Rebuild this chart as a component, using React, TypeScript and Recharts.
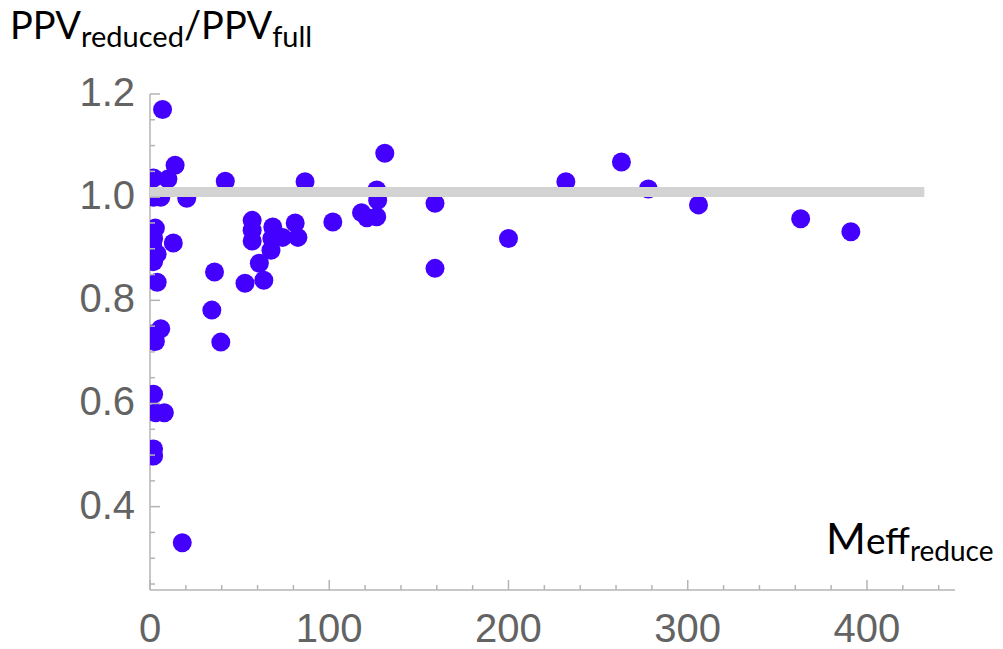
import React from 'react'
import { ScatterChart, Scatter, XAxis, YAxis } from 'recharts'

// Meff_reduce (x) and PPV_reduced / PPV_full (y)
const meffValues = [
  7, 14, 2, 10, 2, 6, 20.5, 3, 2, 1.5, 4, 2, 13, 4, 6, 2, 3, 2, 3, 8, 2, 2, 18,
  34.5, 36, 39.5, 42, 53, 57, 57, 57, 61, 63.5, 68.5, 68, 67.5, 74, 81, 82.5, 86.5,
  102, 118, 121, 126.5, 127, 126.5, 131, 159, 159, 200, 232, 263, 278, 306, 363, 391,
]
const ppvRatio = [
  1.17, 1.062, 1.037, 1.035, 1.0, 1.0, 0.998, 0.94, 0.92, 0.905, 0.89, 0.875, 0.911, 0.835,
  0.745, 0.735, 0.72, 0.618, 0.582, 0.582, 0.512, 0.498, 0.33,
  0.781, 0.855, 0.719, 1.031, 0.833, 0.955, 0.936, 0.915, 0.872, 0.839, 0.942, 0.92, 0.897,
  0.922, 0.95, 0.922, 1.03, 0.952, 0.97, 0.96, 0.962, 0.994, 1.014, 1.085, 0.988, 0.862,
  0.92, 1.03, 1.068, 1.016, 0.985, 0.958, 0.933,
]

// reference band near 1
const refLineX = [0, 432]
const refLineY = 1.01

const xTicks = [0, 20, 40, 60, 80, 100, 120, 140, 160, 180, 200, 220, 240, 260, 280, 300, 320, 340, 360, 380, 400, 420, 440]
const xLabels = [0, 100, 200, 300, 400]
const yTicks = [0.25, 0.3, 0.35, 0.4, 0.45, 0.5, 0.55, 0.6, 0.65, 0.7, 0.75, 0.8, 0.85, 0.9, 0.95, 1.0, 1.05, 1.1, 1.15, 1.2]
const yLabels = [0.4, 0.6, 0.8, 1.0, 1.2]

const points = meffValues.map((x, i) => ({ x, y: ppvRatio[i] }))
const refPoints = refLineX.map(x => ({ x, y: refLineY }))

const AXIS = '#b4b4b4'
const TICK_TEXT = '#636363'
const DOT = '#4400ff'

const XTick = (props: any) => {
  const { x, y, payload } = props
  const major = xLabels.some(v => Math.abs(v - payload.value) < 1e-6)
  return (
    <g>
      <line x1={x} y1={y} x2={x} y2={y - (major ? 10 : 5)} stroke={AXIS} strokeWidth={1.5} />
      {major && (
        <text x={x} y={y + 52} textAnchor="middle" fill={TICK_TEXT}
          style={{ fontFamily: "'Liberation Sans', Arial, sans-serif", fontSize: 40 }}>
          {payload.value}
        </text>
      )}
    </g>
  )
}

const YTick = (props: any) => {
  const { x, y, payload } = props
  const major = yLabels.some(v => Math.abs(v - payload.value) < 1e-6)
  return (
    <g>
      <line x1={x} y1={y} x2={x + (major ? 10 : 5)} y2={y} stroke={AXIS} strokeWidth={1.5} />
      {major && (
        <text x={x - 15} y={y + 12} textAnchor="end" fill={TICK_TEXT}
          style={{ fontFamily: "'Liberation Sans', Arial, sans-serif", fontSize: 40 }}>
          {payload.value.toFixed(1)}
        </text>
      )}
    </g>
  )
}

const Dot = (props: any) => <circle cx={props.cx} cy={props.cy} r={9.5} fill={DOT} />

export default function App() {
  const labelFont = "Lato, 'Open Sans', sans-serif"
  return (
    <div style={{ position: 'absolute', left: 0, top: 0, width: 1003, height: 649, background: '#fff' }}>
      <ScatterChart width={1003} height={649} margin={{ top: 94, right: 48, bottom: 29, left: 90 }}>
        <XAxis
          type="number"
          dataKey="x"
          domain={[0, 449.1]}
          ticks={xTicks}
          interval={0}
          allowDataOverflow
          height={30}
          stroke={AXIS}
          strokeWidth={1.5}
          tickLine={false}
          tickSize={0}
          tickMargin={0}
          tick={<XTick />}
        />
        <YAxis
          type="number"
          dataKey="y"
          domain={[0.2384, 1.2]}
          ticks={yTicks}
          interval={0}
          allowDataOverflow
          width={60}
          stroke={AXIS}
          strokeWidth={1.5}
          tickLine={false}
          tickSize={0}
          tickMargin={0}
          tick={<YTick />}
        />
        <Scatter data={points} shape={<Dot />} isAnimationActive={false} />
        <Scatter
          data={refPoints}
          line={{ stroke: '#d3d3d3', strokeWidth: 10 }}
          shape={() => null}
          isAnimationActive={false}
        />
      </ScatterChart>
      <div style={{ position: 'absolute', left: 10, top: 1, fontFamily: labelFont, color: '#000', whiteSpace: 'nowrap' }}>
        <span style={{ fontSize: 38 }}>PPV</span>
        <span style={{ fontSize: 29, position: 'relative', top: 8 }}>reduced</span>
        <span style={{ fontSize: 38 }}>/PPV</span>
        <span style={{ fontSize: 29, position: 'relative', top: 8 }}>full</span>
      </div>
      <div style={{ position: 'absolute', left: 826, top: 512, fontFamily: labelFont, color: '#000', whiteSpace: 'nowrap' }}>
        <span style={{ fontSize: 43 }}>M</span>
        <span style={{ fontSize: 37 }}>eff</span>
        <span style={{ fontSize: 28, position: 'relative', top: 7 }}>reduce</span>
      </div>
    </div>
  )
}
